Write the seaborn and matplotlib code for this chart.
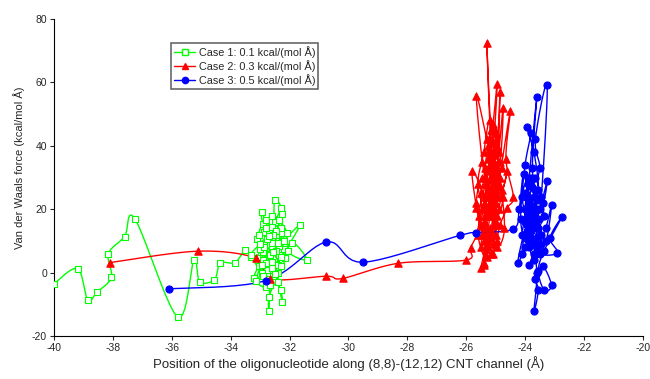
import seaborn as sns
import matplotlib.pyplot as plt
from matplotlib.lines import Line2D
import pandas as pd
import numpy as np

# Case 1: 0.1 kcal/(mol A) - approach path then cluster
case1_x = [-40.0, -39.2, -38.85, -38.55, -38.05, -38.15, -37.6, -37.25, -35.8, -35.25,
           -35.05, -34.55, -34.35, -33.85,
           -33.5, -33.3, -33.05, -32.9, -33.1, -32.85, -32.6, -32.95, -33.2, -32.8,
           -32.55, -32.35, -32.6, -32.9, -32.95, -32.7, -32.45, -32.25, -32.5, -32.5,
           -32.3, -32.6, -32.85, -33.1, -32.75, -32.5, -32.7, -32.7, -32.65, -32.4,
           -32.2, -32.45, -32.7, -32.95, -33.15, -32.9, -32.6, -32.3, -32.25, -32.45,
           -32.75, -33.0, -32.8, -32.55, -32.3, -32.24, -32.4, -32.6, -32.85, -33.05,
           -32.8, -32.55, -32.35, -32.15, -32.4, -32.7, -32.95, -33.3, -33.0, -32.7,
           -32.45, -32.2, -31.65, -32.05, -31.4, -31.9, -32.3, -32.6, -32.9, -32.65,
           -32.4, -32.1, -32.35, -32.6, -32.8, -32.55, -32.3, -32.5]
case1_y = [-3.5, 1.3, -8.7, -6.2, -1.5, 6.0, 11.4, 17.0, -14.0, 4.0,
           -2.8, -2.2, 3.0, 3.2,
           7.2, 5.0, 2.0, 6.5, 10.5, 12.8, 8.0, 3.5, -1.8, -4.5,
           0.5, 5.5, 11.0, 15.5, 19.3, 13.5, 9.5, 12.5, 16.0, 22.8,
           20.3, 14.5, 9.0, 4.5, 1.0, -2.5, -7.5, -12.2, -4.0, 2.5,
           7.5, 11.8, 6.0, 0.0, -2.5, 4.0, 9.5, 14.0, 18.5, 13.0,
           10.5, 7.5, 3.0, -1.0, -5.5, -9.3, -3.0, 3.5, 8.0, 12.0,
           16.5, 12.0, 8.5, 4.5, 0.0, -2.0, 2.5, 5.5, 9.0, 11.5,
           7.0, 10.0, 14.9, 7.0, 4.0, 9.5, 5.0, 1.5, -1.0, 5.5,
           9.5, 12.5, 16.5, 18.0, 14.0, 6.5, 2.0, -0.5]

# Case 2: 0.3 kcal/(mol A)
case2_x = [-38.1, -35.1, -33.15, -32.65, -30.75, -30.2, -28.3, -26.0, -25.85,
           -25.5, -25.65, -25.8, -25.45, -25.3, -25.5, -25.4, -25.2, -25.05, -25.3,
           -25.65, -25.45, -25.2, -24.95, -25.1, -25.3, -25.15, -24.95, -25.1, -25.35,
           -25.55, -25.25, -25.0, -24.85, -24.95, -25.2, -25.45, -25.6, -25.3, -25.05,
           -24.75, -24.85, -25.05, -25.25, -25.5, -25.35, -25.1, -24.9, -24.6, -24.8,
           -25.0, -25.2, -25.4, -25.6, -25.35, -25.15, -24.9, -24.5, -24.65, -24.4,
           -24.6, -24.85, -25.1, -25.4, -25.65, -25.45, -25.2, -24.95, -24.75, -25.0,
           -25.25, -25.05, -24.85, -24.7, -24.95, -25.2, -25.5, -25.3, -25.05, -24.8,
           -25.1, -25.25, -25.0, -25.15, -25.35, -25.2, -25.0, -25.1, -25.3, -25.05,
           -24.9, -25.15, -25.4, -25.25, -25.0, -25.2, -25.1, -24.95, -25.3, -25.45,
           -25.15, -25.0, -25.2, -25.35, -25.1, -24.9, -25.05, -25.25, -25.4, -25.2]
case2_y = [3.2, 6.8, 4.6, -2.0, -1.1, -1.8, 3.0, 4.0, 7.9,
           15.0, 20.5, 32.0, 25.0, 12.0, 1.5, 2.5, 18.0, 30.0, 42.0,
           55.7, 35.0, 22.0, 10.0, 26.0, 72.5, 45.0, 59.5, 38.0, 28.0,
           18.0, 8.0, 16.0, 57.0, 40.0, 30.0, 20.0, 12.0, 5.0, 22.0,
           52.0, 35.0, 45.5, 33.0, 25.0, 14.0, 9.0, 20.0, 32.0, 26.0,
           34.0, 48.0, 38.0, 28.0, 18.0, 12.5, 28.0, 51.0, 36.0, 24.0,
           20.5, 15.0, 6.0, 10.0, 22.0, 30.0, 26.0, 18.0, 24.0, 29.0,
           36.0, 41.0, 30.0, 14.0, 8.0, 14.0, 8.0, 20.0, 27.0, 33.0,
           25.0, 40.0, 44.0, 20.0, 24.0, 33.0, 12.0, 18.0, 28.0, 37.0,
           24.0, 30.0, 16.0, 10.0, 22.0, 42.0, 35.0, 27.0, 19.0, 12.0,
           6.0, 15.0, 24.0, 33.0, 47.0, 38.0, 31.0, 21.0, 3.0, 11.0]

# Case 3: 0.5 kcal/(mol A)
case3_x = [-36.1, -32.8, -30.75, -29.5, -26.2, -25.65, -24.4,
           -24.2, -24.05, -23.85, -23.7, -23.95, -24.15, -24.0, -23.8, -23.95, -23.7,
           -23.55, -23.8, -24.05, -24.25, -24.0, -23.75, -23.5, -23.25, -23.4, -23.65,
           -23.9, -23.6, -23.75, -23.55, -23.3, -23.1, -23.3, -23.6, -23.85, -23.7,
           -23.45, -23.7, -23.95, -24.1, -23.8, -23.5, -22.9, -23.15, -22.75, -23.35,
           -23.55, -23.35, -23.1, -23.4, -23.65, -23.55, -23.7, -23.6, -23.8, -24.0,
           -23.75, -23.5, -23.65, -23.25, -23.45, -23.65, -23.85, -23.55, -23.35, -23.6,
           -23.9, -24.1, -23.85, -23.6,
           -23.8, -23.65, -23.9, -24.0, -23.75, -23.55, -23.7, -23.95, -23.6, -23.8,
           -24.1, -23.85, -23.65, -23.45, -23.7, -23.9, -23.75, -23.6, -23.85, -24.0]
case3_y = [-5.1, -2.5, 9.7, 3.3, 11.8, 12.6, 13.8,
           20.0, 31.0, 22.0, 16.0, 10.5, 17.0, 34.0, 44.0, 46.0, 38.0,
           26.0, 18.0, 12.0, 3.0, 8.0, 14.0, 20.0, 29.0, 22.0, 30.0,
           24.0, 55.5, 33.0, 17.0, 10.0, 21.3, 14.0, 8.0, 2.5, 6.0,
           12.0, 19.0, 15.0, 6.0, 11.0, 6.0, 6.3, 11.0, 17.5, 7.0,
           0.5, -5.5, -4.0, 2.0, -2.0, -5.5, -12.2, 0.0, 13.0, 20.0,
           27.0, 33.0, 42.0, 59.3, 24.0, 16.0, 8.0, 14.0, 18.0, 23.0,
           18.0, 24.0, 30.0, 20.0,
           21.0, 26.0, 28.0, 16.0, 9.0, 11.0, 24.0, 20.0, 14.0, 17.0,
           12.0, 23.0, 19.0, 9.0, 4.0, 13.0, 30.0, 10.0, 16.0, 25.0]

labels = ['Case 1: 0.1 kcal/(mol Å)', 'Case 2: 0.3 kcal/(mol Å)', 'Case 3: 0.5 kcal/(mol Å)']
colors = ['#00ff00', '#ff0000', '#0000ff']


def smooth(x, y, n=10):
    # Catmull-Rom curve through the points (like spreadsheet "smoothed lines")
    p = np.column_stack([x, y])
    p = np.vstack([p[0], p, p[-1]])
    out = []
    t = np.linspace(0, 1, n, endpoint=False)[:, None]
    for i in range(1, len(p) - 2):
        p0, p1, p2, p3 = p[i - 1], p[i], p[i + 1], p[i + 2]
        seg = 0.5 * ((2 * p1) + (-p0 + p2) * t + (2 * p0 - 5 * p1 + 4 * p2 - p3) * t ** 2
                     + (-p0 + 3 * p1 - 3 * p2 + p3) * t ** 3)
        out.append(seg)
    out.append(p[-2][None, :])
    out = np.vstack(out)
    return pd.DataFrame({'x': out[:, 0], 'y': out[:, 1]})


sns.set_style("ticks")
plt.rcParams['font.family'] = ['Liberation Sans', 'DejaVu Sans']
plt.rcParams['axes.unicode_minus'] = False

fig = plt.figure(figsize=(6.5, 3.79), dpi=100)
ax = fig.add_axes([0.083, 0.113, 0.906, 0.837])

series = [(case1_x, case1_y, 's', 24, 'white'),
          (case2_x, case2_y, '^', 28, None),
          (case3_x, case3_y, 'o', 26, None)]

for (xs, ys, mk, ms, fc), col in zip(series, colors):
    sm = smooth(xs, ys)
    sns.lineplot(data=sm, x='x', y='y', sort=False, estimator=None,
                 color=col, lw=1.0, ax=ax)
    pts = pd.DataFrame({'x': xs, 'y': ys})
    sns.scatterplot(data=pts, x='x', y='y', marker=mk, s=ms,
                    color=fc if fc else col, edgecolor=col,
                    linewidth=0.8, ax=ax, zorder=3)

ax.set_xlim(-40, -20)
ax.set_ylim(-20, 80)
ax.set_xticks(np.arange(-40, -19, 2))
ax.set_yticks(np.arange(-20, 81, 20))
ax.tick_params(labelsize=7.5, length=3, width=0.8, pad=2)
sns.despine(ax=ax)
for s in ['left', 'bottom']:
    ax.spines[s].set_linewidth(0.8)
    ax.spines[s].set_color('black')

ax.set_xlabel("Position of the oligonucleotide along (8,8)-(12,12) CNT channel (Å)",
              fontsize=9.5, labelpad=2)
ax.set_ylabel("Van der Waals force (kcal/mol Å)", fontsize=8)
ax.yaxis.set_label_coords(-0.05, 0.53)

handles = [Line2D([], [], color=colors[0], marker='s', markerfacecolor='white', ms=4, lw=1.0),
           Line2D([], [], color=colors[1], marker='^', ms=4.5, lw=1.0),
           Line2D([], [], color=colors[2], marker='o', ms=4.5, lw=1.0)]
leg = ax.legend(handles, labels, loc='upper left', bbox_to_anchor=(0.198, 0.925),
                fontsize=7.8, frameon=True, fancybox=False, shadow=False,
                handlelength=2.0, handletextpad=0.3, borderpad=0.3,
                labelspacing=0.2, borderaxespad=0)
leg.get_frame().set_edgecolor('#333333')
leg.get_frame().set_linewidth(1.1)

fig.savefig("out.png", dpi=100)
